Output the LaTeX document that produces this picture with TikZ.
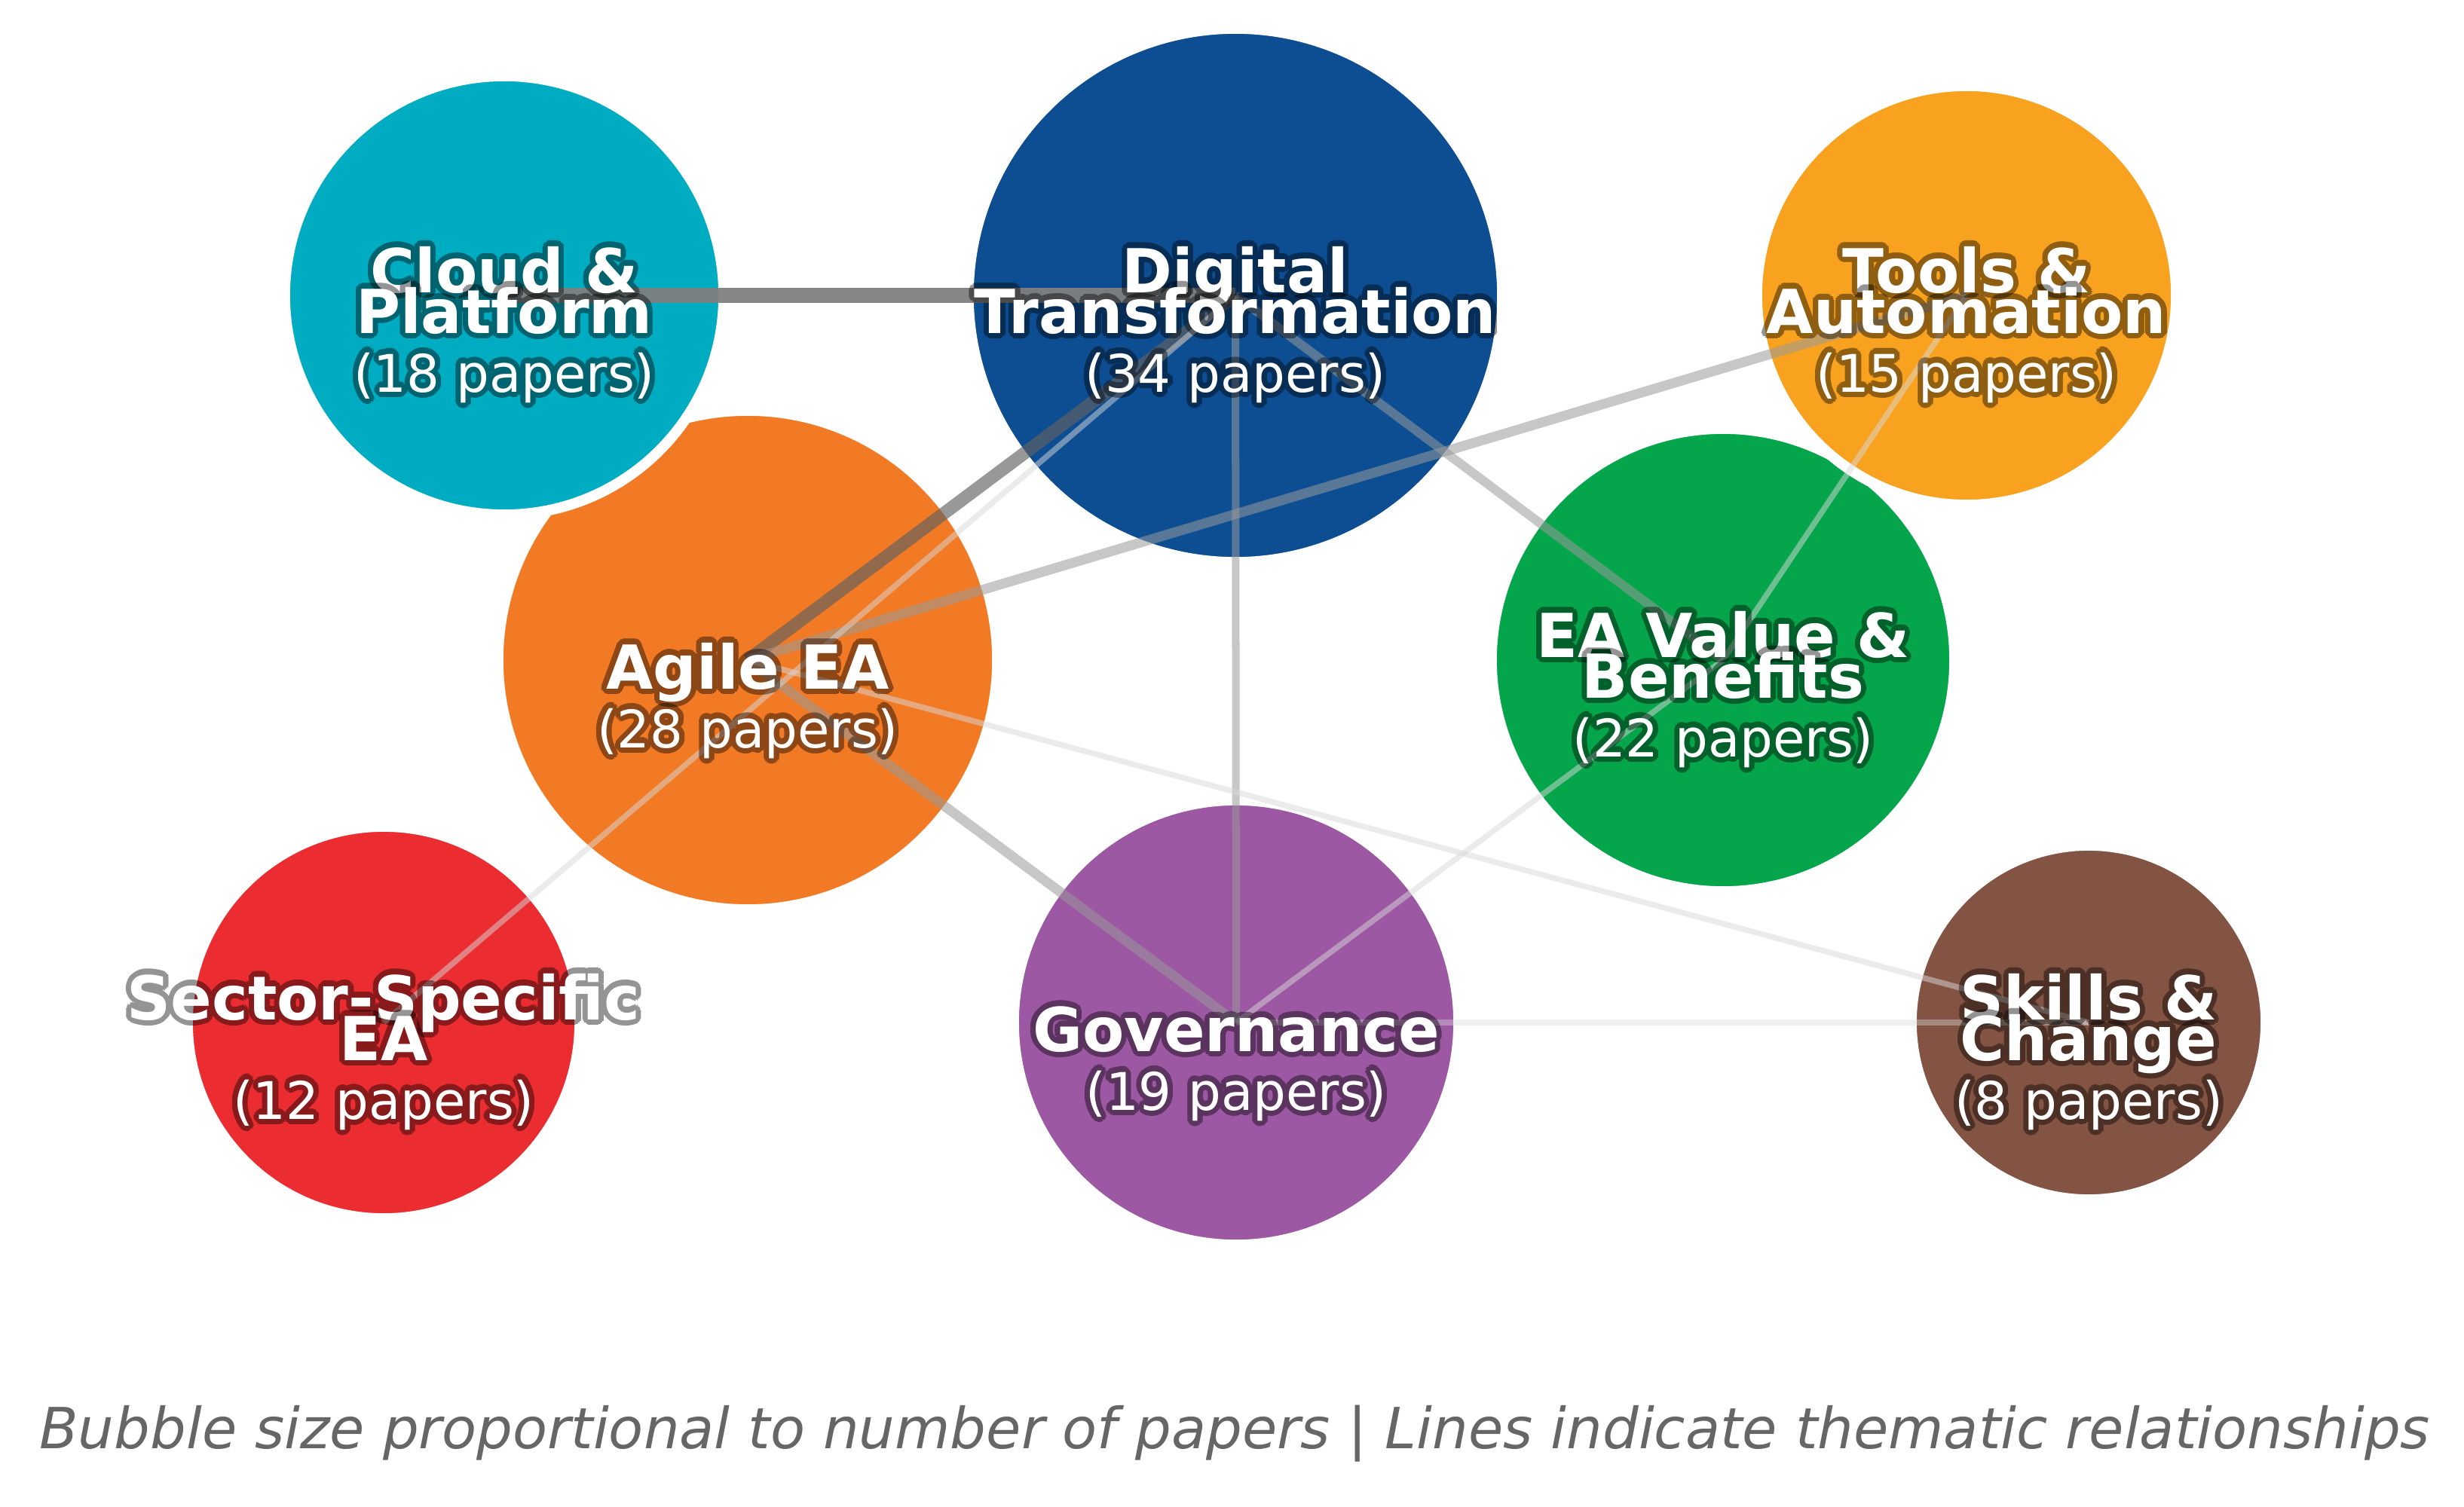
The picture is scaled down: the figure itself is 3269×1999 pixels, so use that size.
\documentclass[tikz,border=0pt]{standalone}
\usepackage{fontspec}
\setmainfont{DejaVu Sans}
\definecolor{cCloud}{HTML}{00ACC1}
\definecolor{cDig}{HTML}{0D4E93}
\definecolor{cTools}{HTML}{F8A21F}
\definecolor{cAgile}{HTML}{F37A25}
\definecolor{cEAV}{HTML}{05A64B}
\definecolor{cSector}{HTML}{EB2D31}
\definecolor{cGov}{HTML}{9C58A2}
\definecolor{cSkills}{HTML}{835443}
\newcommand\olab[5]{%
  \begin{scope}[transparency group, opacity=0.42]
    \foreach \ang in {0,22.5,...,337.5}
      \node[lab,#4,text=black] at ([shift={(\ang:2pt)}]#2,#3) {#5};
    \foreach \ang in {11.25,56.25,...,326.25}
      \node[lab,#4,text=black] at ([shift={(\ang:1.2pt)}]#2,#3) {#5};
  \end{scope}
  \node[lab,#4,text=white] (#1) at (#2,#3) {#5};
}
\begin{document}
\begin{tikzpicture}[x=0.01cm,y=-0.01cm,
  bubble/.style={circle, draw=white, line width=0.14cm, inner sep=0pt, outer sep=0pt},
  lab/.style={anchor=base, inner sep=0pt, outer sep=0pt},
  ttl/.style={font=\fontsize{22.9}{26}\selectfont\bfseries},
  sub/.style={font=\fontsize{19.6}{23}\selectfont},
  estrong/.style={draw=black!50, opacity=.95, line width=0.2cm},
  ethick/.style={draw=black!62, opacity=.65, line width=0.17cm},
  emed/.style={draw=black!40, opacity=.55},
  ethin/.style={draw=black!15, opacity=.5, line width=0.075cm},
  foot/.style={font=\fontsize{21.4}{25}\selectfont\itshape, text=black!60, anchor=base, inner sep=0pt}
]
\fill[white] (0,0) rectangle (3269,1999);
\useasboundingbox (0,0) rectangle (3269,1999);

% bubbles
\node[bubble, fill=cDig, minimum size=7.08cm] (digital) at (1639,392) {};
\node[bubble, fill=cAgile, minimum size=6.62cm] (agile) at (992,876) {};
\node[bubble, fill=cEAV, minimum size=6.14cm] (eav) at (2286,876) {};
\node[bubble, fill=cGov, minimum size=5.90cm] (gov) at (1640,1357) {};
\node[bubble, fill=cCloud, minimum size=5.82cm] (cloud) at (669,392) {};
\node[bubble, fill=cTools, minimum size=5.56cm] (tools) at (2609,392) {};
\node[bubble, fill=cSector, minimum size=5.20cm] (sector) at (509,1357) {};
\node[bubble, fill=cSkills, minimum size=4.70cm] (skills) at (2771,1357) {};

% relationships
\draw[estrong] (cloud.center) -- (digital.center);
\draw[ethick] (agile.center) -- (digital.center);
\draw[emed, line width=0.10cm] (digital.center) -- (gov.center);
\draw[emed, line width=0.12cm] (digital.center) -- (eav.center);
\draw[emed, line width=0.13cm] (agile.center) -- (tools.center);
\draw[emed, line width=0.13cm] (agile.center) -- (gov.center);
\draw[ethin] (agile.center) -- (skills.center);
\draw[ethin] (sector.center) -- (digital.center);
\draw[ethin] (tools.center) -- (eav.center);
\draw[ethin] (eav.center) -- (gov.center);
\draw[ethin, opacity=.4] (gov.center) -- (skills.center);

% labels
\olab{cloudA}{669}{388}{ttl}{Cloud \&}
\olab{cloudB}{669}{442}{ttl}{Platform}
\olab{cloudC}{669}{520}{sub}{(18 papers)}

\olab{digA}{1639}{388}{ttl}{Digital}
\olab{digB}{1639}{442}{ttl}{Transformation}
\olab{digC}{1639}{520}{sub}{(34 papers)}

\olab{toolsA}{2609}{388}{ttl}{Tools \&}
\olab{toolsB}{2609}{442}{ttl}{Automation}
\olab{toolsC}{2609}{520}{sub}{(15 papers)}

\olab{agileA}{992}{914}{ttl}{Agile EA}
\olab{agileB}{992}{992}{sub}{(28 papers)}

\olab{eavA}{2286}{872}{ttl}{EA Value \&}
\olab{eavB}{2286}{926}{ttl}{Benefits}
\olab{eavC}{2286}{1004}{sub}{(22 papers)}

\olab{sectorA}{509}{1353}{ttl}{Sector-Specific}
\olab{sectorB}{509}{1407}{ttl}{EA}
\olab{sectorC}{509}{1485}{sub}{(12 papers)}

\olab{govA}{1640}{1395}{ttl}{Governance}
\olab{govB}{1640}{1473}{sub}{(19 papers)}

\olab{skillsA}{2771}{1353}{ttl}{Skills \&}
\olab{skillsB}{2771}{1407}{ttl}{Change}
\olab{skillsC}{2771}{1485}{sub}{(8 papers)}

\node[foot] (footer) at (1638,1922) {Bubble size proportional to number of papers | Lines indicate thematic relationships};
\end{tikzpicture}
\end{document}
